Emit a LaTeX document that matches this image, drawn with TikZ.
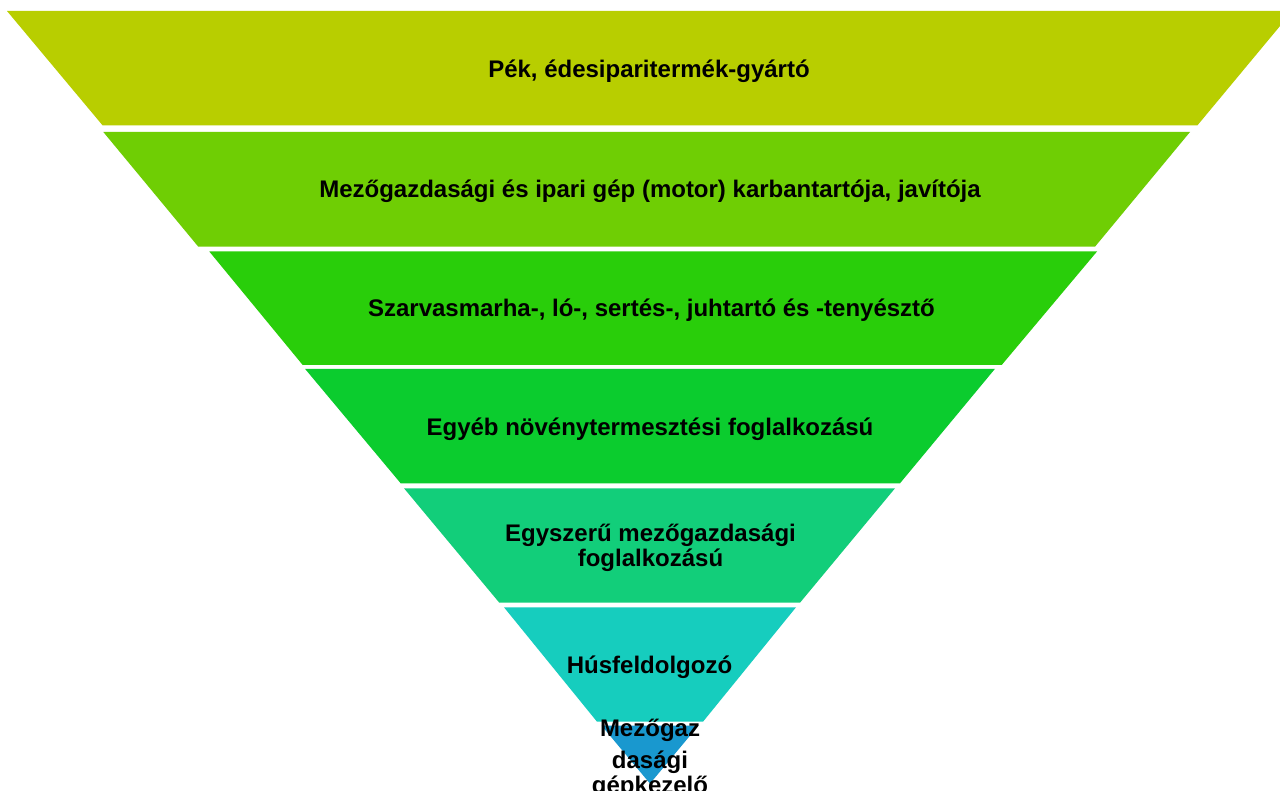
\documentclass[tikz,border=0pt]{standalone}
\usepackage{fontspec}
\setmainfont{Liberation Sans}
\definecolor{c1}{RGB}{184,206,0}
\definecolor{c2}{RGB}{111,206,4}
\definecolor{c3}{RGB}{41,206,10}
\definecolor{c4}{RGB}{11,204,46}
\definecolor{c5}{RGB}{18,206,122}
\definecolor{c6}{RGB}{22,205,190}
\definecolor{c7}{RGB}{25,152,207}
\tikzset{
  lbl/.style={font=\fontsize{24}{25}\selectfont\bfseries, text=black, inner sep=0pt, anchor=base, align=center},
}
\begin{document}
\begin{tikzpicture}[x=1pt,y=-1pt]
\useasboundingbox (0,0) rectangle (1280,791);
\clip (0,0) rectangle (1280,791);
\fill[white] (0,0) rectangle (1280,791);
% bands
\fill[c1] (7,11) -- (1292.5,11) -- (1197.3,125.5) -- (102.7,125.5) -- cycle;
\fill[c2] (103.3,132) -- (1190,132) -- (1095,246.7) -- (198.3,246.7) -- cycle;
\fill[c3] (209.3,251.5) -- (1097,251.5) -- (1001.7,365) -- (302.7,365) -- cycle;
\fill[c4] (305,368.8) -- (995,368.8) -- (900,483.3) -- (400.7,483.3) -- cycle;
\fill[c5] (404,488.3) -- (895,488.3) -- (800,602.7) -- (499.3,602.7) -- cycle;
\fill[c6] (504,607.3) -- (796,607.3) -- (703,721.7) -- (597,721.7) -- cycle;
\fill[c7] (601.5,725.5) -- (698.5,725.5) -- (650,783.6) -- cycle;
% labels (anchor=base is the baseline of the last line)
\node[lbl] (t1) at (649,78) {Pék, édesiparitermék-gyártó};
\node[lbl] (t2) at (650,198) {Mezőgazdasági és ipari gép (motor) karbantartója, javítója};
\node[lbl] (t3) at (651.5,317) {Szarvasmarha-, ló-, sertés-, juhtartó és -tenyésztő};
\node[lbl] (t4) at (650,435.5) {Egyéb növénytermesztési foglalkozású};
\node[lbl] (t5) at (650.5,566) {Egyszerű mezőgazdasági\\foglalkozású};
\node[lbl] (t6) at (649.5,673) {Húsfeldolgozó};
\node[lbl] (t7) at (650,793.5) {Mezőgaz\\[7pt]dasági\\gépkezelő};
\end{tikzpicture}
\end{document}
